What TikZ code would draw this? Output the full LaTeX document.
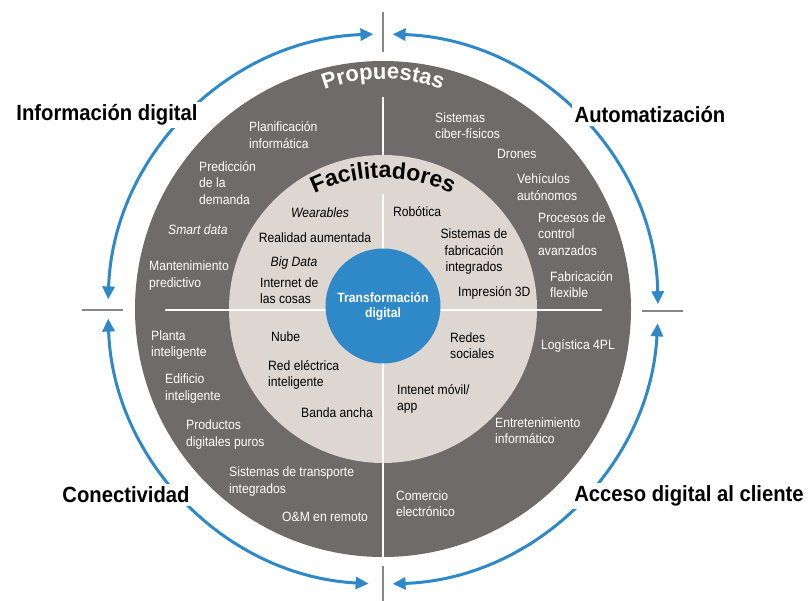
\documentclass[tikz,border=0pt]{standalone}
\usepackage{fontspec}
\usetikzlibrary{arrows.meta,decorations.text}
\setmainfont{Liberation Sans}
\newfontfamily\nf[FakeStretch=0.9]{Liberation Sans}
\newfontfamily\lf[FakeStretch=0.92]{Liberation Sans}
\definecolor{darkring}{RGB}{111,107,106}
\definecolor{beigering}{RGB}{222,215,209}
\definecolor{bluec}{RGB}{47,137,201}
\definecolor{tickc}{RGB}{135,135,135}
\tikzset{
  wt/.style={text=white, font=\nf\fontsize{13.5}{16.5}\selectfont, inner sep=0pt, align=left, anchor=west},
  bt/.style={text=black, font=\nf\fontsize{13.5}{16.5}\selectfont, inner sep=0pt, align=left, anchor=west},
  btc/.style={bt, anchor=center, align=center},
  biglabel/.style={font=\lf\bfseries\fontsize{22}{26}\selectfont, fill=white, inner sep=3pt},
  cyc/.style={draw=bluec, line width=3pt, {Triangle[length=13pt,width=12pt]}-{Triangle[length=13pt,width=12pt]}},
  tickline/.style={draw=tickc, line width=1.3pt},
  sepline/.style={draw=white, line width=1.2pt},
}
\begin{document}
\begin{tikzpicture}[x=1pt,y=-1pt]
\useasboundingbox (0,0) rectangle (809,601);
\fill[white] (0,0) rectangle (809,601);
\coordinate (O) at (383,309);
% rings
\fill[darkring] (O) circle[radius=248];
\fill[beigering] (O) circle[radius=154];
% separators
\coordinate (hl) at (165,310);
\coordinate (hr) at (602,310);
\coordinate (v1) at (383,97);
\coordinate (v2) at (383,155);
\coordinate (v3) at (383,194);
\coordinate (v4) at (383,557);
\draw[sepline] (hl) -- (hr);
\draw[sepline] (v1) -- (v2);
\draw[sepline] (v3) -- (v4);
% center
\node[circle, fill=bluec, minimum size=115pt, inner sep=0pt, text=white,
      font=\nf\bfseries\fontsize{13.5}{15}\selectfont, align=center] (center) at (383,306) {Transformación\\digital};
% cycle arcs
\draw[cyc] ([shift={(182:275)}]O) arc[start angle=182, end angle=268, radius=275];
\draw[cyc] ([shift={(272:275)}]O) arc[start angle=272, end angle=359, radius=275];
\draw[cyc] ([shift={(3:275)}]O) arc[start angle=3, end angle=88, radius=275];
\draw[cyc] ([shift={(93:275)}]O) arc[start angle=93, end angle=178, radius=275];
% ticks
\coordinate (t1a) at (383,12);  \coordinate (t1b) at (383,52);
\coordinate (t2a) at (383,566); \coordinate (t2b) at (383,601);
\coordinate (t3a) at (82,310);  \coordinate (t3b) at (123,310);
\coordinate (t4a) at (642,311); \coordinate (t4b) at (683,311);
\draw[tickline] (t1a) -- (t1b);
\draw[tickline] (t2a) -- (t2b);
\draw[tickline] (t3a) -- (t3b);
\draw[tickline] (t4a) -- (t4b);
% big labels
\node[biglabel] (infd) at (107,115) {Información digital};
\node[biglabel] (auto) at (650,115) {Automatización};
\node[biglabel] (conec) at (126,495) {Conectividad};
\node[biglabel] (acceso) at (689,496) {Acceso digital al cliente};
% curved titles
\path[decorate, decoration={text along path, text align=center,
  text={|\color{white}\bfseries\fontsize{22}{22}\selectfont|Propuestas}}]
  ([shift={(235:165)}]383,244) arc[start angle=235, end angle=305, radius=165];
\path[decorate, decoration={text along path, text align=center,
  text={|\color{black}\bfseries\fontsize{23}{23}\selectfont|Facilitadores}}]
  ([shift={(230:158)}]383,336) arc[start angle=230, end angle=310, radius=158];
% outer ring texts
\node[wt] (p1) at (249,135) {Planificación\\informática};
\node[wt] (p2) at (199,183) {Predicción\\de la\\demanda};
\node[wt, font=\nf\itshape\fontsize{13.5}{16.5}\selectfont] (p3) at (168,230) {Smart data};
\node[wt] (p4) at (149,275.5) {Mantenimiento\\predictivo};
\node[wt] (p5) at (435,125.5) {Sistemas\\ciber-físicos};
\node[wt] (p6) at (497,154) {Drones};
\node[wt] (p7) at (517,187) {Vehículos\\autónomos};
\node[wt] (p8) at (538,234) {Procesos de\\control\\avanzados};
\node[wt] (p9) at (550,284.5) {Fabricación\\flexible};
\node[wt] (p10) at (151,345) {Planta\\inteligente};
\node[wt] (p11) at (165,388.5) {Edificio\\inteligente};
\node[wt] (p12) at (186,434.5) {Productos\\digitales puros};
\node[wt] (p13) at (229,481.5) {Sistemas de transporte\\integrados};
\node[wt] (p14) at (282,517) {O\&M en remoto};
\node[wt] (p15) at (541,346) {Logística 4PL};
\node[wt] (p16) at (495,430.5) {Entretenimiento\\informático};
\node[wt] (p17) at (396,503.5) {Comercio\\electrónico};
% inner ring texts
\node[btc, font=\nf\itshape\fontsize{13.5}{16.5}\selectfont] (f1) at (320,213) {Wearables};
\node[btc] (f2) at (315,238) {Realidad aumentada};
\node[btc, font=\nf\itshape\fontsize{13.5}{16.5}\selectfont] (f3) at (294,263) {Big Data};
\node[bt] (f4) at (260,290.5) {Internet de\\las cosas};
\node[bt] (f5) at (393,212) {Robótica};
\node[btc] (f6) at (474,252) {Sistemas de\\fabricación\\integrados};
\node[bt] (f7) at (458,293) {Impresión 3D};
\node[bt] (f8) at (271,337) {Nube};
\node[bt] (f9) at (268,375) {Red eléctrica\\inteligente};
\node[bt] (f10) at (301,413) {Banda ancha};
\node[bt] (f11) at (450,345.5) {Redes\\sociales};
\node[bt] (f12) at (397,399) {Intenet móvil/\\app};
\end{tikzpicture}
\end{document}
